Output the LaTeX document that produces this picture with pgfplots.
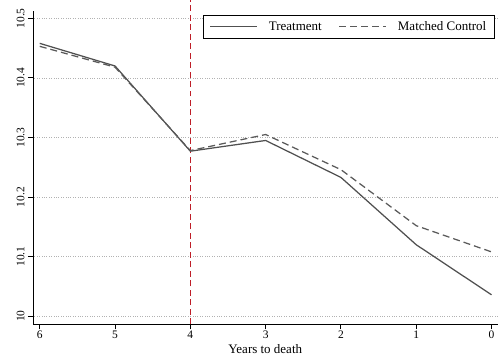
\documentclass[border=0pt]{standalone}
\usepackage{fontspec}
\setmainfont{Liberation Serif}
\usepackage{pgfplots}
\pgfplotsset{compat=1.18}
\definecolor{treat}{RGB}{80,80,80}
\definecolor{ctrl}{RGB}{90,90,90}
\definecolor{vred}{RGB}{190,30,40}
\begin{document}
\begin{tikzpicture}
\begin{axis}[
  scale only axis, width=465pt, height=314pt,
  x dir=reverse, xmin=-0.08, xmax=6.09,
  ymin=9.9865, ymax=10.513,
  clip=false,
  axis x line*=bottom, axis y line*=left,
  axis line style={line width=0.9pt, black},
  xtick={0,1,2,3,4,5,6},
  xticklabels={0,1,2,3,4,5,6},
  ytick={10,10.1,10.2,10.3,10.4,10.5},
  yticklabels={10,10.1,10.2,10.3,10.4,10.5},
  tick align=outside, major tick length=5pt,
  tick style={line width=0.9pt, black},
  yticklabel style={rotate=90, anchor=south, font=\fontsize{11.5}{12}\selectfont},
  xticklabel style={font=\fontsize{11.5}{12}\selectfont, yshift=2pt},
  ymajorgrids, grid style={dotted, gray!60, line width=0.7pt},
  xlabel={Years to death},
  xlabel style={font=\fontsize{13}{14}\selectfont, yshift=1pt},
  legend columns=2,
  legend style={at={(0.994,0.987)}, anchor=north east, draw=black, line width=0.9pt,
    font=\fontsize{13}{14}\selectfont, inner xsep=6pt, inner ysep=4.5pt,
    /tikz/every odd column/.append style={column sep=9pt},
    /tikz/every even column/.append style={column sep=15pt}},
  legend image code/.code={\draw[#1] (0pt,0pt) -- (47pt,0pt);},
]
\addplot[vred, line width=0.9pt, dash pattern=on 6pt off 3.5pt, forget plot] coordinates {(4,9.9865) (4,10.53)};
\addplot[treat, line width=1.25pt] coordinates {
(6,10.458) (5,10.420) (4,10.277) (3,10.295) (2,10.233) (1,10.120) (0,10.036)};
\addlegendentry{Treatment}
\addplot[ctrl, line width=1.25pt, dash pattern=on 7pt off 4pt] coordinates {
(6,10.453) (5,10.418) (4,10.278) (3,10.305) (2,10.246) (1,10.152) (0,10.108)};
\addlegendentry{Matched Control}
\end{axis}
\path (current axis.south west) ++(-33pt,-33pt);
\path (current axis.north east) ++(0pt,9pt);
\end{tikzpicture}
\end{document}
